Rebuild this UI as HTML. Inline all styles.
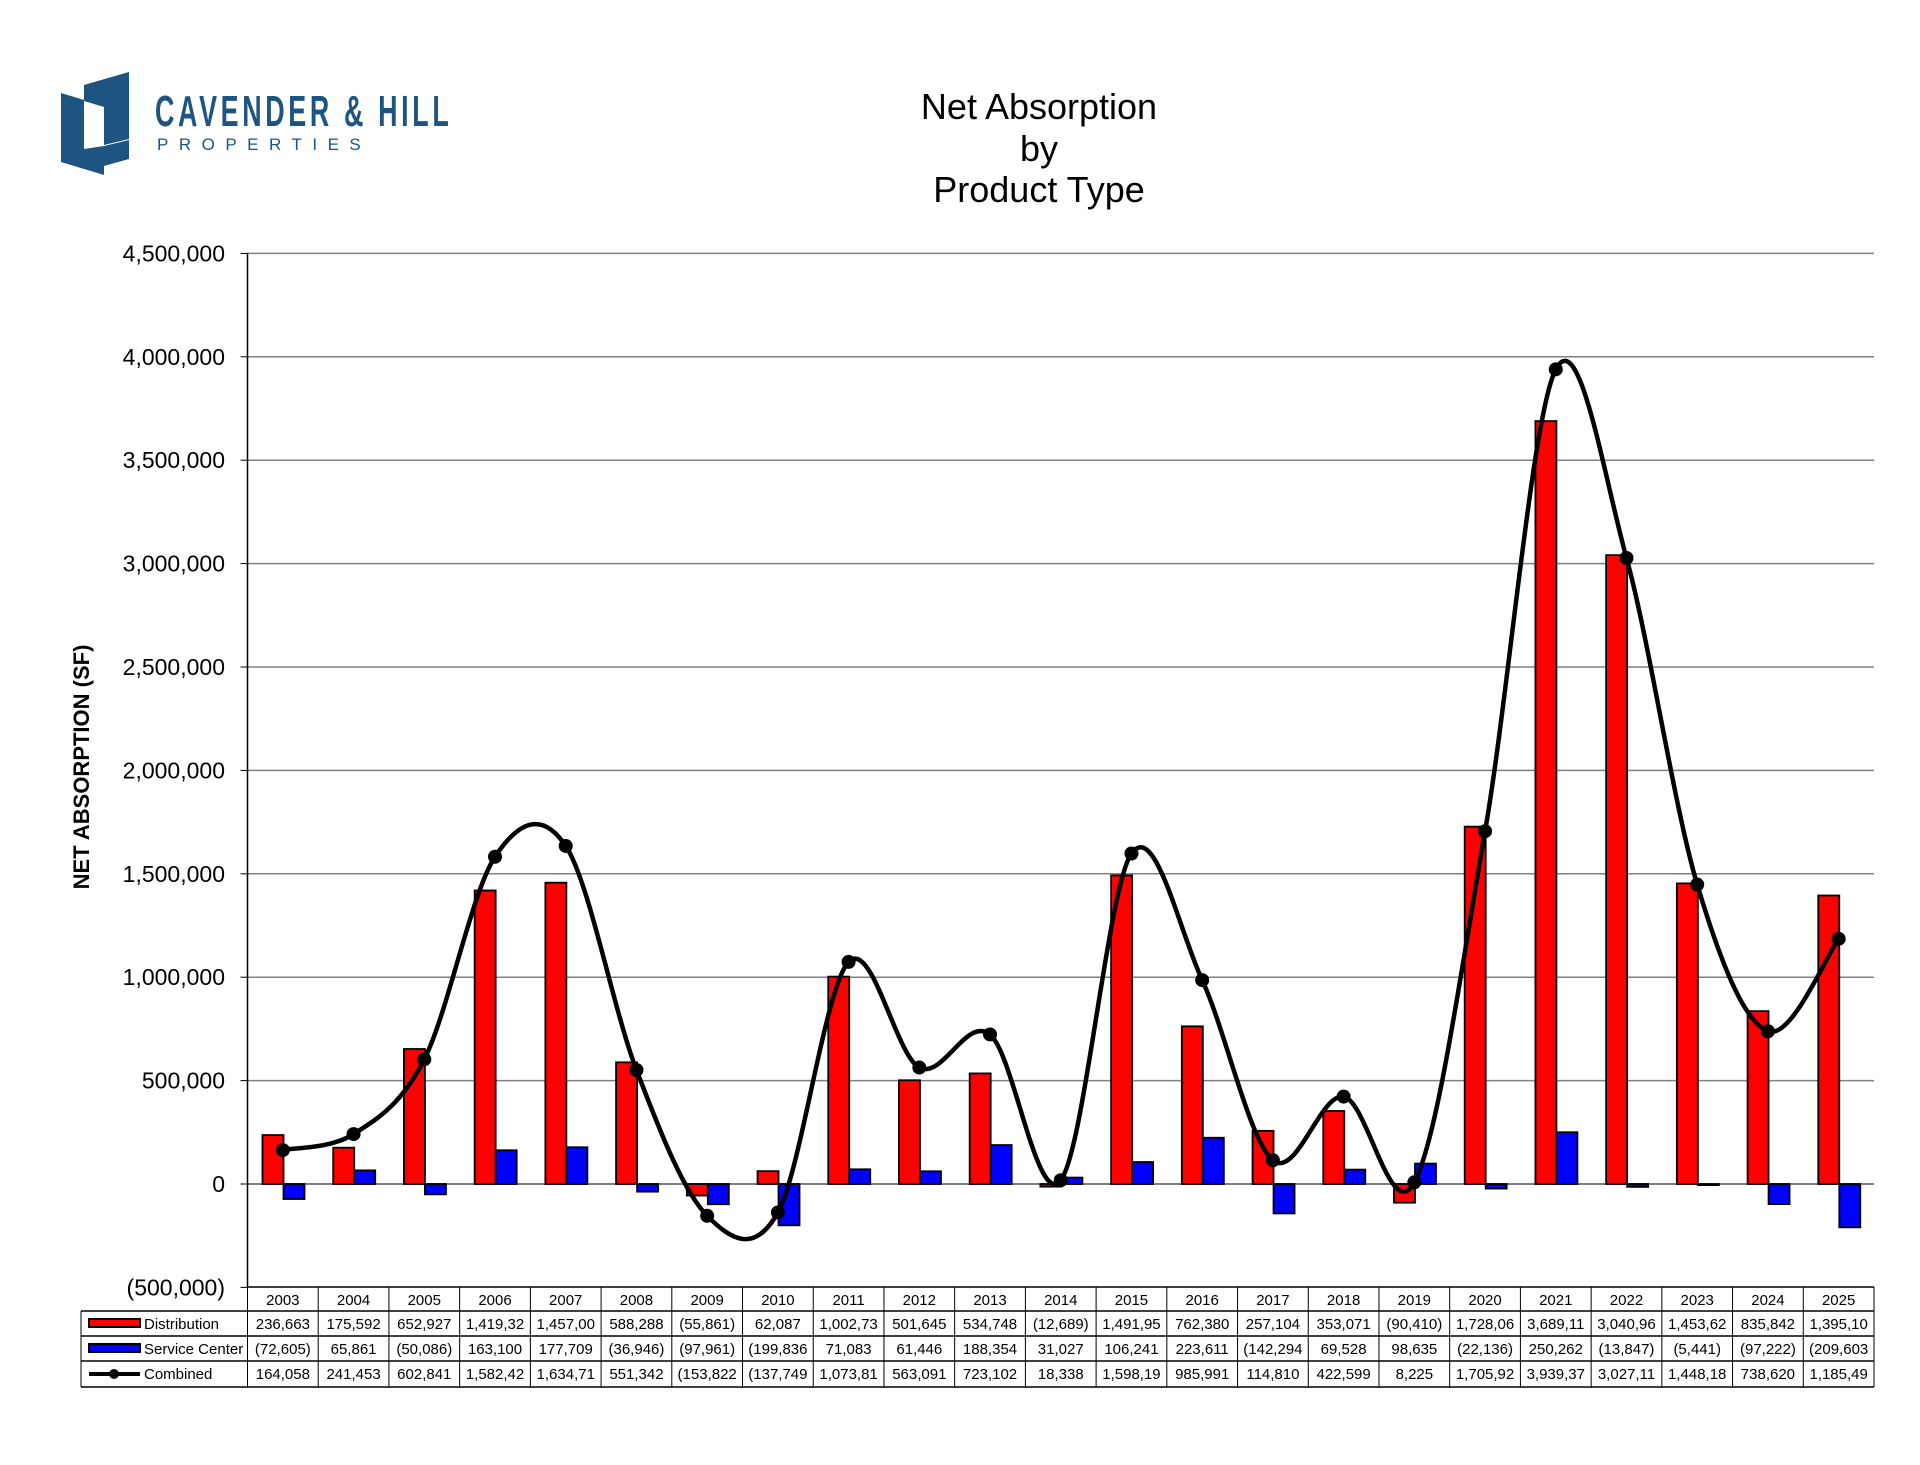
<!DOCTYPE html>
<html><head><meta charset="utf-8"><style>
html,body{margin:0;padding:0;background:#fff;}
body{width:1920px;height:1465px;position:relative;overflow:hidden;font-family:"Liberation Sans",sans-serif;}
svg{position:absolute;left:0;top:0;}
</style></head><body>
<svg id="c" width="1920" height="1465" xmlns="http://www.w3.org/2000/svg"></svg>
<script>
const D=[236663,175592,652927,1419320,1457000,588288,-55861,62087,1002730,501645,534748,-12689,1491950,762380,257104,353071,-90410,1728060,3689110,3040960,1453620,835842,1395100];
const S=[-72605,65861,-50086,163100,177709,-36946,-97961,-199836,71083,61446,188354,31027,106241,223611,-142294,69528,98635,-22136,250262,-13847,-5441,-97222,-209603];
const C=[164058,241453,602841,1582420,1634710,551342,-153822,-137749,1073810,563091,723102,18338,1598190,985991,114810,422599,8225,1705920,3939370,3027110,1448180,738620,1185490];
const Dt=["236,663","175,592","652,927","1,419,32","1,457,00","588,288","(55,861)","62,087","1,002,73","501,645","534,748","(12,689)","1,491,95","762,380","257,104","353,071","(90,410)","1,728,06","3,689,11","3,040,96","1,453,62","835,842","1,395,10"];
const St=["(72,605)","65,861","(50,086)","163,100","177,709","(36,946)","(97,961)","(199,836","71,083","61,446","188,354","31,027","106,241","223,611","(142,294","69,528","98,635","(22,136)","250,262","(13,847)","(5,441)","(97,222)","(209,603"];
const Ct=["164,058","241,453","602,841","1,582,42","1,634,71","551,342","(153,822","(137,749","1,073,81","563,091","723,102","18,338","1,598,19","985,991","114,810","422,599","8,225","1,705,92","3,939,37","3,027,11","1,448,18","738,620","1,185,49"];
const X0=247.5,X1=1874,W=(X1-X0)/23,Y0=1184,K=103.4/500000;
const y=v=>Y0-v*K;
let s='';
s+='<text x="1039" y="119" font-size="36" text-anchor="middle" font-family="Liberation Sans">Net Absorption</text>';
s+='<text x="1039" y="161" font-size="36" text-anchor="middle" font-family="Liberation Sans">by</text>';
s+='<text x="1039" y="202" font-size="36" text-anchor="middle" font-family="Liberation Sans">Product Type</text>';
s+='<path d="M61 93 L104 106 L104 175 L61 162 Z" fill="#1d5482"/><path d="M84 85 L129 72 L129 139 L104 145 L104 107 L84 101 Z" fill="#1d5482"/><path d="M84 101 L104 107 L104 146 L84 149 Z" fill="#fff"/><path d="M104 146 L129 140 L129 159 L104 166 Z" fill="#1d5482"/>';
s+='<text x="155" y="126" font-size="44" font-weight="bold" fill="#1d5482" font-family="Liberation Sans" transform="translate(155 0) scale(0.61 1) translate(-155 0)" letter-spacing="6">CAVENDER &amp; HILL</text>';
s+='<text x="157" y="150" font-size="17" fill="#1d5482" font-family="Liberation Sans" letter-spacing="10.5">PROPERTIES</text>';
for(let i=-1;i<=9;i++){const yy=y(i*500000);
 if(i>=0) s+=`<line x1="${X0}" x2="${X1}" y1="${yy}" y2="${yy}" stroke="${i==0?'#555':'#808080'}" stroke-width="1.5"/>`;
 s+=`<line x1="${X0-7}" x2="${X0}" y1="${yy}" y2="${yy}" stroke="#000"/>`;
 const v=Math.abs(i*500000).toLocaleString('en-US');
 s+=`<text x="225" y="${yy+8}" font-size="23" text-anchor="end" font-family="Liberation Sans">${i<0?'('+v+')':v}</text>`;}
s+=`<line x1="${X0}" x2="${X0}" y1="253" y2="1287" stroke="#000" stroke-width="1.5"/>`;
s+=`<text transform="translate(89 767) rotate(-90)" font-size="22" font-weight="bold" text-anchor="middle" font-family="Liberation Sans">NET ABSORPTION (SF)</text>`;
for(let i=0;i<23;i++){const x=X0+i*W;
 const b=(v,xx,col)=>{const a=y(Math.max(v,0)),h=Math.abs(v)*K;s+=`<rect x="${xx}" y="${a}" width="21" height="${Math.max(h,1)}" fill="${col}" stroke="#000" stroke-width="1.8"/>`;};
 b(D[i],x+15,'#ff0000');b(S[i],x+36,'#0000ff');}
const P=C.map((v,i)=>[X0+i*W+W/2,y(v)]);
let d=`M${P[0][0]} ${P[0][1]}`;
for(let i=0;i<P.length-1;i++){const p0=P[Math.max(i-1,0)],p1=P[i],p2=P[i+1],p3=P[Math.min(i+2,P.length-1)];
 const t=1/6;d+=` C${p1[0]+(p2[0]-p0[0])*t} ${p1[1]+(p2[1]-p0[1])*t} ${p2[0]-(p3[0]-p1[0])*t} ${p2[1]-(p3[1]-p1[1])*t} ${p2[0]} ${p2[1]}`;}
s+=`<path d="${d}" fill="none" stroke="#000" stroke-width="4.5"/>`;
P.forEach(p=>s+=`<circle cx="${p[0]}" cy="${p[1]}" r="7" fill="#000"/>`);
const R=[1287,1311,1336,1361,1387];
s+=`<line x1="${X0}" x2="${X1}" y1="1287" y2="1287" stroke="#000" stroke-width="1.5"/>`;
for(let r=1;r<5;r++) s+=`<line x1="81" x2="${X1}" y1="${R[r]}" y2="${R[r]}" stroke="#000" stroke-width="1.5"/>`;
s+=`<line x1="81" x2="81" y1="1311" y2="1387" stroke="#000"/>`;
for(let i=0;i<=23;i++){const x=X0+i*W;s+=`<line x1="${x}" x2="${x}" y1="1287" y2="1387" stroke="#000"/>`;}
for(let i=0;i<23;i++){const cx=X0+i*W+W/2;
 s+=`<text x="${cx}" y="1305" font-size="15" text-anchor="middle" font-family="Liberation Sans">${2003+i}</text>`;
 [Dt,St,Ct].forEach((a,r)=>s+=`<text x="${cx}" y="${R[r+1]+18}" font-size="15" text-anchor="middle" font-family="Liberation Sans" textLength="${a[i].length>8?64:0}">${a[i]}</text>`);}
s=s.replace(/ textLength="0"/g,'');
s+=`<rect x="89" y="1319" width="51" height="8" fill="#ff0000" stroke="#000" stroke-width="2"/><text x="144" y="1329" font-size="15">Distribution</text>`;
s+=`<rect x="89" y="1344" width="51" height="8" fill="#0000ff" stroke="#000" stroke-width="2"/><text x="144" y="1354" font-size="15">Service Center</text>`;
s+=`<line x1="89" x2="140" y1="1374" y2="1374" stroke="#000" stroke-width="4"/><circle cx="114" cy="1374" r="5"/><text x="144" y="1379" font-size="15">Combined</text>`;
document.getElementById('c').innerHTML=s;
</script>
</body></html>
